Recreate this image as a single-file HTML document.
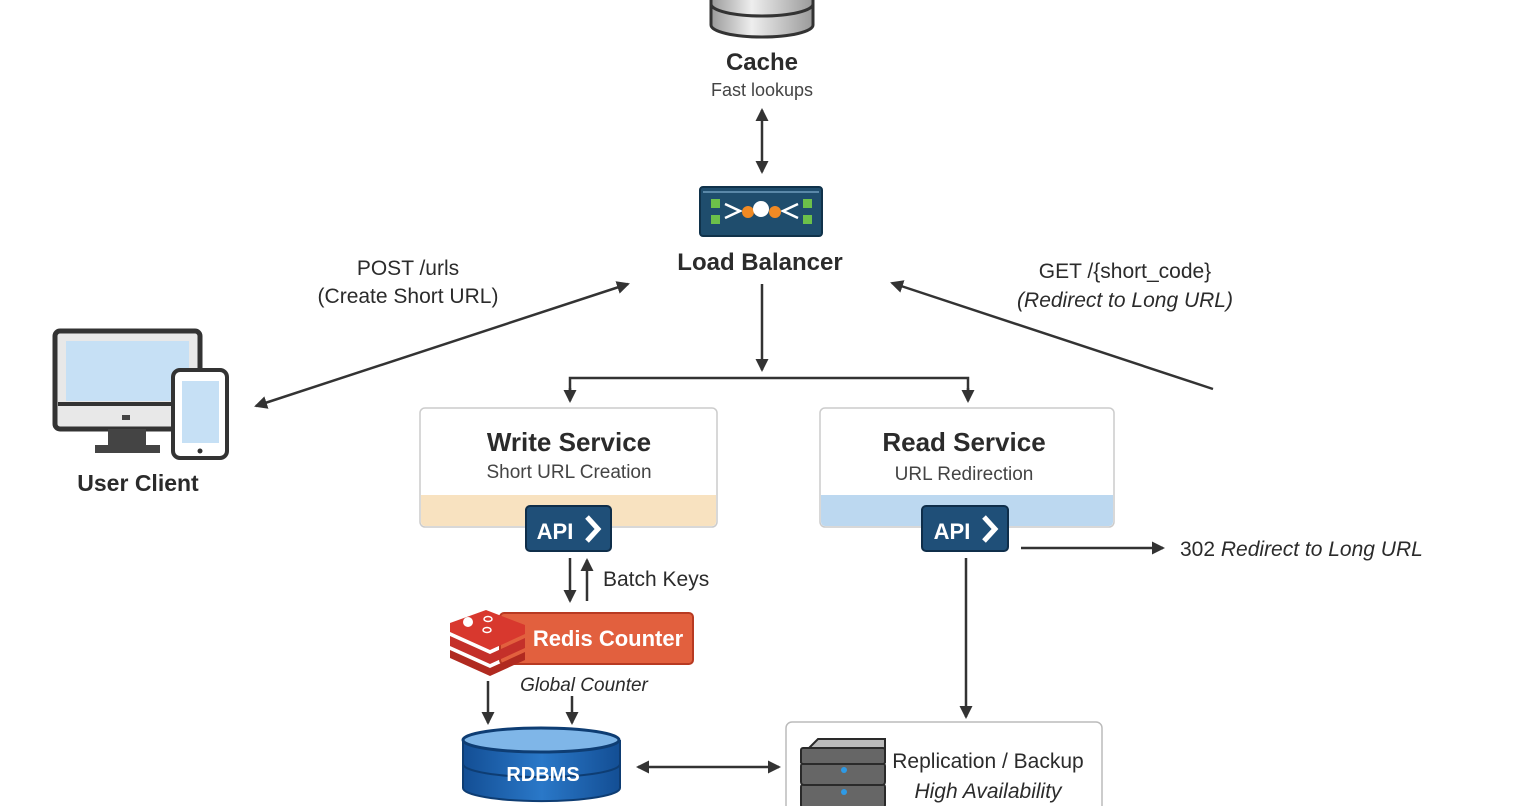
<!DOCTYPE html>
<html><head><meta charset="utf-8"><style>
html,body{margin:0;padding:0;background:#fff;width:1536px;height:806px;overflow:hidden}
text{font-family:"Liberation Sans",sans-serif}
text:not([fill]){fill:#2b2b2b}
</style></head><body>
<svg width="1536" height="806" viewBox="0 0 1536 806" xmlns="http://www.w3.org/2000/svg">
<defs>
<marker id="ah" markerWidth="14" markerHeight="14" refX="11" refY="6.5" orient="auto-start-reverse" markerUnits="userSpaceOnUse">
<path d="M0,0 L13,6.5 L0,13 z" fill="#333"/></marker>
<linearGradient id="gc" x1="0" x2="1"><stop offset="0" stop-color="#9a9a9a"/><stop offset=".4" stop-color="#eee"/><stop offset="1" stop-color="#9a9a9a"/></linearGradient>
<linearGradient id="gb" x1="0" x2="1"><stop offset="0" stop-color="#134e94"/><stop offset=".5" stop-color="#2a78c8"/><stop offset="1" stop-color="#134e94"/></linearGradient>
</defs>
<g stroke="#333" stroke-width="2.5" fill="none">
<path d="M711,-10 L711,25 A51,12 0 0 0 813,25 L813,-10" fill="url(#gc)" stroke-width="3"/>
<path d="M711,4 A51,12 0 0 0 813,4" stroke-width="3"/>
</g>
<text x="762" y="70" font-size="24" font-weight="bold" text-anchor="middle">Cache</text>
<text x="762" y="96" font-size="18" text-anchor="middle" fill="#444">Fast lookups</text>
<g stroke="#333" stroke-width="2.5" fill="none">
<line x1="762" y1="110" x2="762" y2="172" marker-start="url(#ah)" marker-end="url(#ah)"/>
<line x1="762" y1="284" x2="762" y2="370" marker-end="url(#ah)"/>
<polyline points="570,398 570,378 968,378 968,398"/>
<line x1="570" y1="388" x2="570" y2="401" marker-end="url(#ah)"/>
<line x1="968" y1="388" x2="968" y2="401" marker-end="url(#ah)"/>
<line x1="628" y1="284" x2="256" y2="406" marker-start="url(#ah)" marker-end="url(#ah)"/>
<line x1="1213" y1="389" x2="892" y2="283" marker-end="url(#ah)"/>
<line x1="570" y1="558" x2="570" y2="601" marker-end="url(#ah)"/>
<line x1="587" y1="601" x2="587" y2="560" marker-end="url(#ah)"/>
<line x1="488" y1="681" x2="488" y2="723" marker-end="url(#ah)"/>
<line x1="572" y1="696" x2="572" y2="723" marker-end="url(#ah)"/>
<line x1="638" y1="767" x2="779" y2="767" marker-start="url(#ah)" marker-end="url(#ah)"/>
<line x1="966" y1="558" x2="966" y2="717" marker-end="url(#ah)"/>
<line x1="1021" y1="548" x2="1163" y2="548" marker-end="url(#ah)"/>
</g>
<rect x="700" y="187" width="122" height="49" rx="3" fill="#1f4d6d" stroke="#10324a" stroke-width="2"/>
<line x1="703" y1="192" x2="819" y2="192" stroke="#5a88a8" stroke-width="2"/>
<rect x="711" y="199" width="9" height="9" fill="#6cc04a"/><rect x="711" y="215" width="9" height="9" fill="#6cc04a"/>
<rect x="803" y="199" width="9" height="9" fill="#6cc04a"/><rect x="803" y="215" width="9" height="9" fill="#6cc04a"/>
<path d="M725,204 L740,211 L725,218 M798,204 L783,211 L798,218" stroke="#fff" stroke-width="2.5" fill="none"/>
<circle cx="748" cy="212" r="6" fill="#f08a24"/><circle cx="775" cy="212" r="6" fill="#f08a24"/><circle cx="761" cy="209" r="8" fill="#fff"/>
<text x="760" y="270" font-size="24" font-weight="bold" text-anchor="middle">Load Balancer</text>
<text x="408" y="275" font-size="21" text-anchor="middle">POST /urls</text>
<text x="408" y="303" font-size="21" text-anchor="middle">(Create Short URL)</text>
<text x="1125" y="278" font-size="21" text-anchor="middle">GET /{short_code}</text>
<text x="1125" y="307" font-size="21" font-style="italic" text-anchor="middle">(Redirect to Long URL)</text>
<rect x="55" y="331" width="145" height="98" rx="5" fill="#e8e8e8" stroke="#333" stroke-width="5"/>
<rect x="66" y="341" width="123" height="60" fill="#c6e0f5"/>
<rect x="58" y="402" width="139" height="4" fill="#333"/>
<rect x="122" y="415" width="8" height="5" fill="#444"/>
<path d="M108,429 L108,445 L95,445 L95,453 L160,453 L160,445 L146,445 L146,429" fill="#444"/>
<rect x="173" y="370" width="54" height="88" rx="7" fill="#fff" stroke="#333" stroke-width="4"/>
<rect x="182" y="381" width="37" height="62" fill="#c6e0f5"/>
<circle cx="200" cy="451" r="2.5" fill="#333"/>
<text x="138" y="491" font-size="23" font-weight="bold" text-anchor="middle">User Client</text>
<rect x="420" y="408" width="297" height="119" rx="5" fill="#fff" stroke="#ccc" stroke-width="1.5"/>
<path d="M421,495 H716 V522 a4,4 0 0 1 -4,4 H425 a4,4 0 0 1 -4,-4 z" fill="#f8e2c0"/>
<text x="569" y="451" font-size="26" font-weight="bold" text-anchor="middle">Write Service</text>
<text x="569" y="478" font-size="19" text-anchor="middle" fill="#444">Short URL Creation</text>
<rect x="820" y="408" width="294" height="119" rx="5" fill="#fff" stroke="#ccc" stroke-width="1.5"/>
<path d="M821,495 H1113 V522 a4,4 0 0 1 -4,4 H825 a4,4 0 0 1 -4,-4 z" fill="#bcd8f0"/>
<text x="964" y="451" font-size="26" font-weight="bold" text-anchor="middle">Read Service</text>
<text x="964" y="480" font-size="19" text-anchor="middle" fill="#444">URL Redirection</text>
<rect x="526" y="506" width="85" height="45" rx="4" fill="#1f4f78" stroke="#0f2e4a" stroke-width="2"/>
<text x="555" y="539" font-size="22" font-weight="bold" fill="#fff" text-anchor="middle">API</text>
<path d="M587,517 L598,529 L587,541" stroke="#fff" stroke-width="5" fill="none"/>
<rect x="922" y="506" width="86" height="45" rx="4" fill="#1f4f78" stroke="#0f2e4a" stroke-width="2"/>
<text x="952" y="539" font-size="22" font-weight="bold" fill="#fff" text-anchor="middle">API</text>
<path d="M984,517 L995,529 L984,541" stroke="#fff" stroke-width="5" fill="none"/>
<text x="603" y="586" font-size="21">Batch Keys</text>
<text x="1180" y="556" font-size="21">302 <tspan font-style="italic">Redirect to Long URL</tspan></text>
<rect x="500" y="613" width="193" height="51" rx="4" fill="#e2603e" stroke="#b83a22" stroke-width="2"/>
<text x="608" y="646" font-size="22" font-weight="bold" fill="#fff" text-anchor="middle">Redis Counter</text>
<path d="M450,650 L490,668 L525,652 L525,660 L490,676 L450,658 z" fill="#b02a20"/>
<path d="M450,636 L490,654 L525,638 L525,648 L490,664 L450,646 z" fill="#c4302a"/>
<path d="M450,623 L486,610 L525,625 L525,634 L490,650 L450,632 z" fill="#d8382e"/>
<circle cx="468" cy="622" r="5" fill="#fff"/><ellipse cx="488" cy="619" rx="4" ry="2.5" fill="none" stroke="#fff" stroke-width="1.5"/><ellipse cx="487" cy="630" rx="4" ry="2.5" fill="none" stroke="#fff" stroke-width="1.5"/>
<text x="584" y="691" font-size="19" text-anchor="middle" font-style="italic">Global Counter</text>
<path d="M463,740 L463,788 A78,13 0 0 0 620,788 L620,740" fill="url(#gb)" stroke="#0e3d73" stroke-width="2"/>
<ellipse cx="541" cy="740" rx="78" ry="12" fill="#7fb6e8" stroke="#0e3d73" stroke-width="3"/>
<path d="M463,764 A78,13 0 0 0 620,764" stroke="#0e3d73" stroke-width="2" fill="none"/>
<text x="543" y="781" font-size="20" font-weight="bold" fill="#fff" text-anchor="middle">RDBMS</text>
<rect x="786" y="722" width="316" height="100" rx="6" fill="#fff" stroke="#bbb" stroke-width="1.5"/>
<g stroke="#2a2a2a" stroke-width="2">
<rect x="801" y="784" width="84" height="24" rx="3" fill="#666"/>
<rect x="801" y="763" width="84" height="22" rx="3" fill="#666"/>
<path d="M801,756 L818,739 L885,739 L885,762 L801,762 z" fill="#bbb"/>
<rect x="801" y="748" width="84" height="16" rx="2" fill="#666"/>
</g>
<circle cx="844" cy="770" r="3" fill="#2e9ae6"/><circle cx="844" cy="792" r="3" fill="#2e9ae6"/>
<text x="988" y="768" font-size="21" text-anchor="middle">Replication / Backup</text>
<text x="988" y="798" font-size="21" font-style="italic" text-anchor="middle">High Availability</text>
</svg>
</body></html>
